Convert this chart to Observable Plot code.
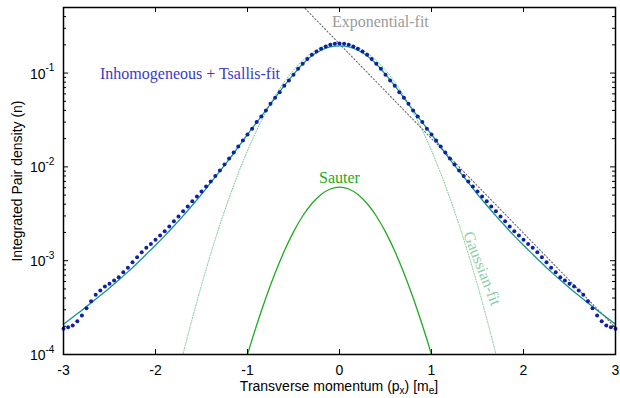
<!DOCTYPE html>
<html>
<head>
<meta charset="utf-8">
<script src="https://cdn.jsdelivr.net/npm/d3@7"></script>
<script src="https://cdn.jsdelivr.net/npm/@observablehq/plot@0.6"></script>
<style>
  html, body { margin: 0; padding: 0; background: #fff; }
  .serif-note, .serif-note text { font-family: "Liberation Serif", "DejaVu Serif", serif !important; }
</style>
</head>
<body>
<div id="chart"></div>
<script>
// ---- data ----
const dataPx = [-3,-2.95,-2.9,-2.85,-2.8,-2.75,-2.7,-2.65,-2.6,-2.55,-2.5,-2.45,-2.4,-2.35,-2.3,-2.25,-2.2,-2.15,-2.1,-2.05,
  -2,-1.95,-1.9,-1.85,-1.8,-1.75,-1.7,-1.65,-1.6,-1.55,-1.5,-1.45,-1.4,-1.35,-1.3,-1.25,-1.2,-1.15,-1.1,-1.05,
  -1,-0.95,-0.9,-0.85,-0.8,-0.75,-0.7,-0.65,-0.6,-0.55,-0.5,-0.45,-0.4,-0.35,-0.3,-0.25,-0.2,-0.15,-0.1,-0.05,
  0,0.05,0.1,0.15,0.2,0.25,0.3,0.35,0.4,0.45,0.5,0.55,0.6,0.65,0.7,0.75,0.8,0.85,0.9,0.95,
  1,1.05,1.1,1.15,1.2,1.25,1.3,1.35,1.4,1.45,1.5,1.55,1.6,1.65,1.7,1.75,1.8,1.85,1.9,1.95,
  2,2.05,2.1,2.15,2.2,2.25,2.3,2.35,2.4,2.45,2.5,2.55,2.6,2.65,2.7,2.75,2.8,2.85,2.9,2.95,3];
const dataN = [1.88e-4,1.95e-4,2.04e-4,2.26e-4,2.61e-4,3.12e-4,3.70e-4,4.33e-4,4.81e-4,5.31e-4,
  5.67e-4,6.15e-4,6.67e-4,7.54e-4,8.40e-4,9.64e-4,1.09e-3,1.23e-3,1.37e-3,1.51e-3,
  1.67e-3,1.86e-3,2.06e-3,2.32e-3,2.64e-3,2.96e-3,3.37e-3,3.78e-3,4.31e-3,4.83e-3,
  5.47e-3,6.18e-3,6.98e-3,8.0e-3,9.16e-3,1.06e-2,1.23e-2,1.425e-2,1.65e-2,1.91e-2,
  2.21e-2,2.55e-2,3.00e-2,3.45e-2,3.99e-2,4.71e-2,5.45e-2,6.26e-2,7.32e-2,8.34e-2,
  9.59e-2,0.111,0.126,0.141,0.157,0.170,0.182,0.192,0.200,0.205,
  0.207,
  0.205,0.200,0.192,0.182,0.170,0.157,0.141,0.126,0.111,9.59e-2,
  8.34e-2,7.32e-2,6.26e-2,5.45e-2,4.71e-2,3.99e-2,3.45e-2,3.00e-2,2.55e-2,2.21e-2,
  1.91e-2,1.65e-2,1.425e-2,1.23e-2,1.06e-2,9.16e-3,8.0e-3,6.98e-3,6.18e-3,5.47e-3,
  4.83e-3,4.31e-3,3.78e-3,3.37e-3,2.96e-3,2.64e-3,2.32e-3,2.06e-3,1.86e-3,1.67e-3,
  1.51e-3,1.37e-3,1.23e-3,1.09e-3,9.64e-4,8.40e-4,7.54e-4,6.67e-4,6.15e-4,5.67e-4,
  5.31e-4,4.81e-4,4.33e-4,3.70e-4,3.12e-4,2.61e-4,2.26e-4,2.04e-4,1.95e-4,1.88e-4];

const fitPx = [-3,-2.9,-2.8,-2.7,-2.6,-2.5,-2.4,-2.3,-2.2,-2.1,-2,-1.9,-1.8,-1.7,-1.6,-1.5,-1.4,-1.3,-1.2,-1.1,
  -1,-0.9,-0.8,-0.7,-0.6,-0.5,-0.4,-0.3,-0.2,-0.1,0,0.1,0.2,0.3,0.4,0.5,0.6,0.7,0.8,0.9,
  1,1.1,1.2,1.3,1.4,1.5,1.6,1.7,1.8,1.9,2,2.1,2.2,2.3,2.4,2.5,2.6,2.7,2.8,2.9,3];
const tsallisN = [2.1e-4,2.5e-4,2.97e-4,3.55e-4,4.25e-4,5.12e-4,6.22e-4,7.6e-4,9.4e-4,1.17e-3,
  1.46e-3,1.84e-3,2.34e-3,3.0e-3,3.9e-3,5.1e-3,6.8e-3,9.0e-3,1.2e-2,1.63e-2,
  2.22e-2,2.98e-2,4.0e-2,5.45e-2,7.35e-2,9.7e-2,0.125,0.153,0.175,0.190,
  0.195,
  0.190,0.175,0.153,0.125,9.7e-2,7.35e-2,5.45e-2,4.0e-2,2.98e-2,2.22e-2,
  1.63e-2,1.2e-2,9.0e-3,6.8e-3,5.1e-3,3.9e-3,3.0e-3,2.34e-3,1.84e-3,1.46e-3,
  1.17e-3,9.4e-4,7.6e-4,6.22e-4,5.12e-4,4.25e-4,3.55e-4,2.97e-4,2.5e-4,2.1e-4];

const gaussPx = [-1.8,-1.7,-1.6,-1.5,-1.4,-1.3,-1.2,-1.1,-1,-0.9,-0.8,-0.7,-0.6,-0.5,-0.4,-0.3,-0.2,-0.1,
  0,0.1,0.2,0.3,0.4,0.5,0.6,0.7,0.8,0.9,1,1.1,1.2,1.3,1.4,1.5,1.6,1.7,1.8];
const gaussN = [4.03e-5,1.014e-4,2.42e-4,5.49e-4,1.18e-3,2.41e-3,4.65e-3,8.54e-3,1.486e-2,2.45e-2,
  3.84e-2,5.71e-2,8.04e-2,0.1075,0.1363,0.164,0.1872,0.2025,
  0.208,
  0.2025,0.1872,0.164,0.1363,0.1075,8.04e-2,5.71e-2,3.84e-2,2.45e-2,1.486e-2,
  8.54e-3,4.65e-3,2.41e-3,1.18e-3,5.49e-4,2.42e-4,1.014e-4,4.03e-5];

const expPx = [-0.4, 3];
const expN = [0.518, 1.93e-4];

const sauterPx = [-1.1,-1,-0.9,-0.8,-0.7,-0.6,-0.5,-0.4,-0.3,-0.2,-0.1,0,0.1,0.2,0.3,0.4,0.5,0.6,0.7,0.8,0.9,1,1.1];
const sauterN = [4.65e-5,1.0e-4,2.06e-4,4.02e-4,7.38e-4,1.269e-3,2.027e-3,2.994e-3,4.07e-3,5.08e-3,5.81e-3,
  6.08e-3,
  5.81e-3,5.08e-3,4.07e-3,2.994e-3,2.027e-3,1.269e-3,7.38e-4,4.02e-4,2.06e-4,1.0e-4,4.65e-5];

const xTicks = [-3,-2,-1,0,1,2,3];
const xTickLabels = ["-3","-2","-1","0","1","2","3"];
const yMajor = [1e-4,1e-3,1e-2,1e-1];
const yExp = ["-4","-3","-2","-1"];
const yMinor = [2e-4,3e-4,4e-4,5e-4,6e-4,7e-4,8e-4,9e-4,
  2e-3,3e-3,4e-3,5e-3,6e-3,7e-3,8e-3,9e-3,
  2e-2,3e-2,4e-2,5e-2,6e-2,7e-2,8e-2,9e-2,
  0.2,0.3,0.4,0.5];

// ---- tables ----
const dataPts = dataPx.map((x, i) => ({x, y: dataN[i]}));
const tsallis = fitPx.map((x, i) => ({x, y: tsallisN[i]}));
const gauss = gaussPx.map((x, i) => ({x, y: gaussN[i]}));
const expo = expPx.map((x, i) => ({x, y: expN[i]}));
const sauter = sauterPx.map((x, i) => ({x, y: sauterN[i]}));

const W = 620, H = 398, mL = 63, mR = 5, mT = 7, mB = 44;
const innerW = W - mL - mR, innerH = H - mT - mB;
const serif = "Liberation Serif";

const plot = Plot.plot({
  width: W, height: H,
  marginLeft: mL, marginRight: mR, marginTop: mT, marginBottom: mB,
  x: {domain: [-3, 3], axis: null},
  y: {type: "log", domain: [1e-4, 0.5], axis: null},
  style: {fontFamily: "'Liberation Sans', Arial, sans-serif", fontSize: "14px", background: "white", color: "black"},
  marks: [
    Plot.line(gauss, {x: "x", y: "y", stroke: "#74c893", strokeWidth: 1, strokeDasharray: "1,1.6", curve: "natural", clip: true}),
    Plot.line(expo, {x: "x", y: "y", stroke: "#6a6a6a", strokeWidth: 1.1, strokeDasharray: "1.2,2.3", clip: true}),
    Plot.line(sauter, {x: "x", y: "y", stroke: "#22aa22", strokeWidth: 1.3, curve: "natural", clip: true}),
    Plot.line(tsallis, {x: "x", y: "y", stroke: "#16928e", strokeWidth: 1.3, curve: "monotone-x", clip: true}),
    Plot.dot(dataPts, {x: "x", y: "y", r: 2, fill: "#1020a6", stroke: "none"}),
    // inward ticks (mirrored on all sides)
    Plot.tickY(yMajor, {y: d => d, insetRight: innerW - 5, stroke: "black"}),
    Plot.tickY(yMajor, {y: d => d, insetLeft: innerW - 5, stroke: "black"}),
    Plot.tickY(yMinor, {y: d => d, insetRight: innerW - 3, stroke: "black"}),
    Plot.tickY(yMinor, {y: d => d, insetLeft: innerW - 3, stroke: "black"}),
    Plot.tickX(xTicks, {x: d => d, insetTop: innerH - 5, stroke: "black"}),
    Plot.tickX(xTicks, {x: d => d, insetBottom: innerH - 5, stroke: "black"}),
    Plot.frame({stroke: "black", strokeWidth: 1.5}),
    // tick labels
    Plot.text(xTicks, {x: d => d, text: (d, i) => xTickLabels[i], frameAnchor: "bottom", lineAnchor: "top", dy: 11, fontSize: 14, fill: "black"}),
    Plot.text(yMajor, {y: d => d, text: () => "10", frameAnchor: "left", textAnchor: "end", dx: -18, dy: 1, fontSize: 14, fill: "black"}),
    Plot.text(yMajor, {y: d => d, text: (d, i) => yExp[i], frameAnchor: "left", textAnchor: "start", dx: -18, dy: -5, fontSize: 10, fill: "black"}),
    // y axis label
    Plot.text(["Integrated Pair density (n)"], {frameAnchor: "left", rotate: -90, dx: -46, textAnchor: "middle", lineAnchor: "middle", fontSize: 14, fill: "black"}),
    // annotations
    Plot.text(["Inhomogeneous + Tsallis-fit"], {x: [-2.603], y: [0.099], textAnchor: "start", fontFamily: serif, fontSize: 16, fill: "#3a3ac8"}),
    Plot.text(["Exponential-fit"], {x: [-0.082], y: [0.355], textAnchor: "start", fontFamily: serif, fontSize: 16, fill: "#9a9a9a"}),
    Plot.text(["Sauter"], {x: [0], y: [0.0077], textAnchor: "middle", fontFamily: serif, fontSize: 16, fill: "#22aa22"}),
    Plot.text(["Gaussian-fit"], {x: [1.549], y: [8.26e-4], textAnchor: "middle", rotate: 68.6, fontFamily: serif, fontSize: 16, fill: "#8ccfa4"})
  ]
});

const svg = d3.select(plot);
// make sure annotation texts use a serif face
const notes = new Set(["Inhomogeneous + Tsallis-fit", "Exponential-fit", "Sauter", "Gaussian-fit"]);
svg.selectAll("text").each(function() {
  if (notes.has(this.textContent)) {
    this.setAttribute("font-family", "Liberation Serif");
    this.style.fontFamily = "'Liberation Serif', 'DejaVu Serif', serif";
  }
});

// x axis label with subscripts
const xl = svg.append("text")
  .attr("x", mL + innerW / 2)
  .attr("y", 391)
  .attr("text-anchor", "middle")
  .attr("font-size", 14)
  .attr("fill", "black");
xl.append("tspan").text("Transverse momentum (p");
xl.append("tspan").attr("font-size", 10).attr("dy", 3).text("x");
xl.append("tspan").attr("dy", -3).text(") [m");
xl.append("tspan").attr("font-size", 10).attr("dy", 3).text("e");
xl.append("tspan").attr("dy", -3).text("]");

document.getElementById("chart").appendChild(plot);
</script>
</body>
</html>
